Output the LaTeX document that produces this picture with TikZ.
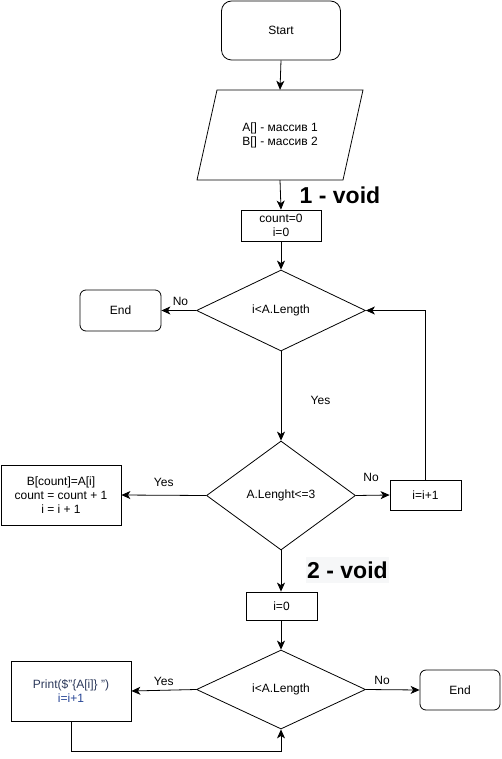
\documentclass[tikz,border=0pt]{standalone}
\usepackage{fontspec}
\setmainfont{Liberation Sans}
\usetikzlibrary{shapes.geometric,arrows.meta}
\definecolor{codetext}{RGB}{45,58,92}
\definecolor{codeblue}{RGB}{40,70,150}
\definecolor{notebg}{RGB}{246,247,248}
\begin{document}
\begin{tikzpicture}[x=1pt,y=-1pt,
  every node/.style={font=\fontsize{12}{14}\selectfont, align=center},
  term/.style={draw, rounded corners=#1, line width=0.8pt},
  term/.default=8pt,
  proc/.style={draw, line width=0.8pt, inner sep=0pt},
  cond/.style={draw, diamond, line width=0.8pt, inner sep=0pt},
  lbl/.style={font=\fontsize{12}{14}\selectfont},
  note/.style={font=\bfseries\fontsize{23}{26}\selectfont, inner sep=1pt},
  arr/.style={-{Stealth[length=9pt,width=8pt,inset=2.5pt]}, line width=0.8pt},
  ln/.style={line width=0.8pt}]
\useasboundingbox (0,0) rectangle (501,759);
\fill[white] (0,0) rectangle (501,759);

% terminals, processes and decisions
\node[term=10pt, minimum width=119pt, minimum height=59pt] (start) at (281,30.5) {Start};
\node[minimum width=146pt, minimum height=90pt, inner sep=0pt] (input) at (280,135)
  {A[] - массив 1\\B[] - массив 2};
\draw[ln] (217,90) -- (363,90) -- (343,180) -- (197,180) -- cycle;
\node[proc, minimum width=80pt, minimum height=31pt] (init) at (281,225.5) {count=0\\i=0};
\node[cond, minimum width=169pt, minimum height=81pt] (cond1) at (281,310.5) {i<A.Length};
\node[term=6pt, minimum width=81pt, minimum height=41pt] (end1) at (120.5,310.5) {End};
\node[cond, minimum width=149pt, minimum height=109pt] (cond2) at (281,495.5) {A.Lenght<=3};
\node[proc, minimum width=120pt, minimum height=60pt] (body) at (61,495)
  {B[count]=A[i]\\count = count + 1\\i = i + 1};
\node[proc, minimum width=71pt, minimum height=30pt] (inc) at (425.5,495) {i=i+1};
\node[proc, minimum width=71pt, minimum height=28pt] (zero) at (281.5,606) {i=0};
\node[cond, minimum width=169pt, minimum height=79pt] (cond3) at (281,689.5) {i<A.Length};
\node[proc, minimum width=120pt, minimum height=60pt] (print) at (71,691)
  {\textcolor{codetext}{Print(\$"\{A[i]\} ")}\\\textcolor{codeblue}{i=i+1}};
\node[term=6pt, minimum width=80pt, minimum height=40pt] (end2) at (460,690) {End};

% section notes
\node[note] (void1) at (340,195) {1 - void};
\node[note, fill=notebg, minimum width=83pt, minimum height=26pt] (void2) at (347.5,570) {2 - void};

% connectors
\draw[arr] (start.south) -- (input.north);
\draw[arr] (input.south) -- (init.north);
\draw[arr] (init.south) -- (cond1.north);
\draw[arr] (cond1.west) -- node[lbl, above, pos=0.45, yshift=1pt] (no1) {No} (end1.east);
\draw[arr] (cond1.south) -- node[lbl, right, xshift=26pt, pos=0.55] (yes1) {Yes} (cond2.north);
\draw[arr] (cond2.west) -- node[lbl, above, yshift=5pt] (yes2) {Yes} (body.east);
\draw[arr] (cond2.east) -- node[lbl, above, yshift=10pt, pos=0.45] (no2) {No} (inc.west);
\draw[arr] (inc.north) |- (cond1.east);
\draw[arr] (cond2.south) -- (zero.north -| cond2.south);
\draw[arr] (zero.south -| cond3.north) -- (cond3.north);
\draw[arr] (cond3.west) -- node[lbl, above, yshift=1pt, pos=0.5] (yes3) {Yes} (print.east);
\draw[arr] (cond3.east) -- node[lbl, above, yshift=1pt, pos=0.3] (no3) {No} (end2.west);
\draw[arr] (print.south) -- ++(0,30) -| (cond3.south);
\end{tikzpicture}
\end{document}
